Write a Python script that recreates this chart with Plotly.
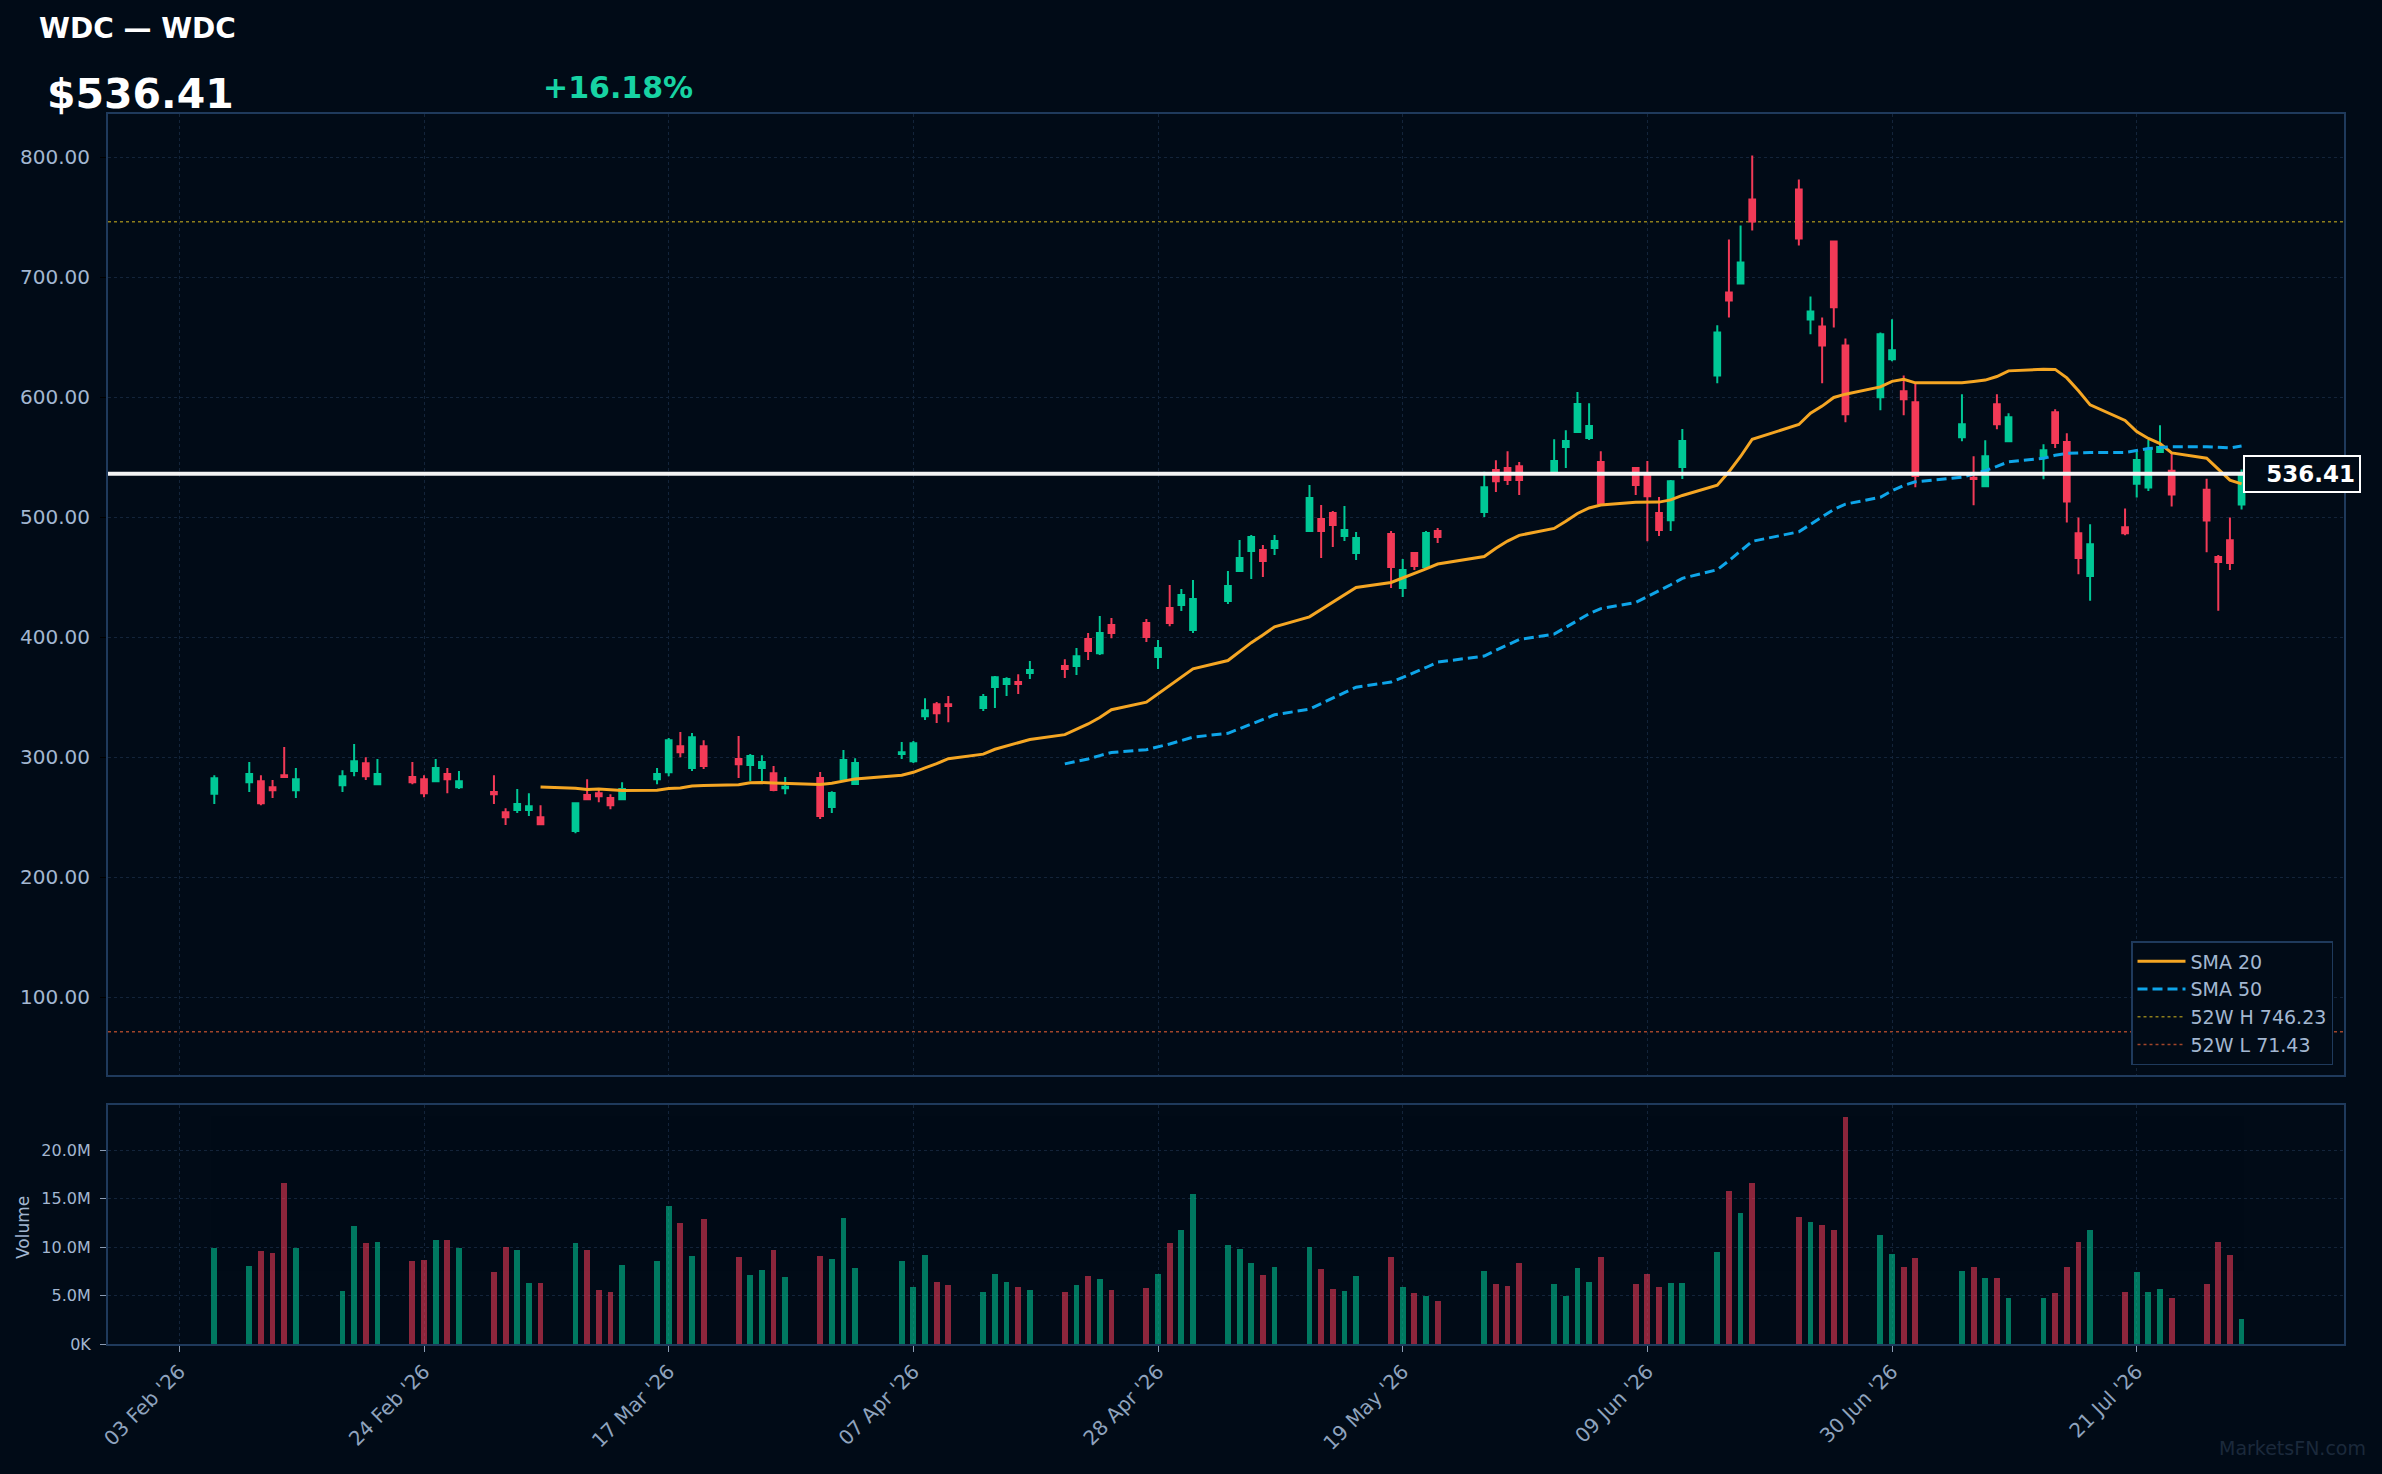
import plotly.graph_objects as go
import pandas as pd

# ---------------- data ----------------
dates = [
    "2026-02-06", "2026-02-09", "2026-02-10", "2026-02-11", "2026-02-12", "2026-02-13",
    "2026-02-17", "2026-02-18", "2026-02-19", "2026-02-20",
    "2026-02-23", "2026-02-24", "2026-02-25", "2026-02-26", "2026-02-27",
    "2026-03-02", "2026-03-03", "2026-03-04", "2026-03-05", "2026-03-06",
    "2026-03-09", "2026-03-10", "2026-03-11", "2026-03-12", "2026-03-13",
    "2026-03-16", "2026-03-17", "2026-03-18", "2026-03-19", "2026-03-20",
    "2026-03-23", "2026-03-24", "2026-03-25", "2026-03-26", "2026-03-27",
    "2026-03-30", "2026-03-31", "2026-04-01", "2026-04-02",
    "2026-04-06", "2026-04-07", "2026-04-08", "2026-04-09", "2026-04-10",
    "2026-04-13", "2026-04-14", "2026-04-15", "2026-04-16", "2026-04-17",
    "2026-04-20", "2026-04-21", "2026-04-22", "2026-04-23", "2026-04-24",
    "2026-04-27", "2026-04-28", "2026-04-29", "2026-04-30", "2026-05-01",
    "2026-05-04", "2026-05-05", "2026-05-06", "2026-05-07", "2026-05-08",
    "2026-05-11", "2026-05-12", "2026-05-13", "2026-05-14", "2026-05-15",
    "2026-05-18", "2026-05-19", "2026-05-20", "2026-05-21", "2026-05-22",
    "2026-05-26", "2026-05-27", "2026-05-28", "2026-05-29",
    "2026-06-01", "2026-06-02", "2026-06-03", "2026-06-04", "2026-06-05",
    "2026-06-08", "2026-06-09", "2026-06-10", "2026-06-11", "2026-06-12",
    "2026-06-15", "2026-06-16", "2026-06-17", "2026-06-18",
    "2026-06-22", "2026-06-23", "2026-06-24", "2026-06-25", "2026-06-26",
    "2026-06-29", "2026-06-30", "2026-07-01", "2026-07-02",
    "2026-07-06", "2026-07-07", "2026-07-08", "2026-07-09", "2026-07-10",
    "2026-07-13", "2026-07-14", "2026-07-15", "2026-07-16", "2026-07-17",
    "2026-07-20", "2026-07-21", "2026-07-22", "2026-07-23", "2026-07-24",
    "2026-07-27", "2026-07-28", "2026-07-29", "2026-07-30",
]

opens = [
    269.7, 279.4, 280.2, 275.2, 285.2, 272.7,
    276.9, 288.6, 295.2, 277.7,
    283.6, 281.9, 280.2, 286.1, 275.2,
    271.1, 254.4, 256.1, 256.1, 250.2,
    238.6, 268.6, 270.2, 266.1, 265.2,
    281.9, 287.7, 309.4, 291.1, 309.4,
    298.6, 293.6, 291.1, 286.9, 274.4,
    282.8, 258.6, 281.9, 277.8,
    302.8, 296.9, 334.4, 344.4, 344.4,
    341.1, 358.6, 361.1, 362.8, 370.3,
    376.1, 376.1, 398.6, 386.9, 410.3,
    411.9, 383.6, 424.4, 426.9, 406.1,
    430.3, 455.3, 471.9, 472.8, 474.4,
    488.6, 498.6, 503.6, 484.4, 470.3,
    486.1, 441.1, 470.3, 458.6, 488.6,
    504.4, 539.4, 541.1, 542.7,
    537.0, 558.6, 571.1, 566.1, 546.1,
    541.1, 536.1, 503.6, 497.7, 541.9,
    618.3, 687.4, 694.9, 764.9,
    773.2, 664.9, 659.1, 729.9, 643.3,
    600.0, 631.7, 605.0, 595.9,
    566.7, 533.0, 525.9, 594.2, 563.4,
    550.9, 587.6, 562.8, 486.7, 451.2,
    491.7, 528.1, 524.8, 554.5, 538.8,
    523.1, 466.9, 481.0, 510.7,
]

highs = [
    285.2, 296.1, 285.2, 281.1, 308.6, 291.1,
    289.4, 311.1, 300.2, 298.6,
    296.1, 285.2, 298.6, 291.1, 288.6,
    285.2, 257.7, 273.6, 270.2, 260.2,
    262.7, 281.9, 273.6, 269.4, 279.4,
    291.1, 316.1, 321.1, 320.3, 314.4,
    317.8, 302.8, 301.9, 292.8, 283.6,
    287.8, 271.9, 306.1, 299.4,
    312.8, 313.6, 349.4, 346.1, 351.1,
    352.8, 367.8, 366.9, 369.4, 380.3,
    381.9, 391.1, 403.6, 417.8, 416.1,
    415.3, 397.8, 443.6, 440.3, 447.8,
    455.3, 481.1, 485.3, 476.9, 485.3,
    526.9, 510.3, 505.3, 509.4, 487.8,
    488.6, 465.3, 471.1, 488.6, 491.1,
    538.0, 547.7, 555.2, 546.1,
    565.2, 572.7, 604.4, 595.2, 555.2,
    541.9, 546.9, 516.9, 531.1, 573.6,
    660.0, 731.6, 743.2, 801.5,
    781.5, 684.1, 666.6, 730.7, 649.1,
    654.1, 665.0, 618.3, 611.7,
    602.5, 550.9, 564.2, 602.5, 586.7,
    560.9, 590.1, 570.2, 500.0, 494.2,
    507.4, 554.5, 564.4, 576.8, 553.7,
    532.2, 468.6, 500.0, 540.0,
]

lows = [
    261.1, 271.1, 260.2, 266.1, 283.0, 266.1,
    271.1, 284.4, 281.1, 277.7,
    277.7, 266.9, 279.4, 270.2, 273.6,
    261.1, 243.6, 253.6, 251.1, 243.6,
    236.9, 264.8, 262.7, 256.9, 264.4,
    277.7, 284.4, 300.2, 288.6, 290.3,
    282.8, 280.3, 280.3, 271.9, 269.4,
    248.6, 253.6, 281.1, 277.5,
    298.6, 295.3, 331.1, 328.6, 329.4,
    338.6, 341.1, 351.1, 352.8, 365.3,
    366.1, 368.6, 381.1, 385.3, 399.4,
    396.1, 373.6, 409.4, 421.9, 403.6,
    427.8, 454.4, 448.6, 450.3, 468.6,
    487.8, 466.1, 475.3, 480.3, 464.4,
    441.1, 433.6, 456.1, 457.8, 478.6,
    500.4, 521.1, 526.9, 518.6,
    536.0, 541.1, 571.0, 564.4, 510.0,
    518.6, 480.2, 484.4, 488.6, 531.9,
    611.7, 666.6, 694.1, 739.0,
    726.6, 652.5, 611.7, 658.3, 579.2,
    589.2, 630.0, 585.0, 525.1,
    563.4, 510.1, 525.9, 573.4, 562.6,
    531.8, 557.8, 495.8, 452.7, 430.5,
    485.1, 516.5, 522.0, 553.7, 509.1,
    471.0, 422.3, 456.2, 506.6,
]

closes = [
    282.7, 286.1, 261.9, 272.7, 283.6, 281.9,
    284.4, 296.9, 284.4, 286.1,
    279.4, 270.2, 291.1, 281.9, 280.2,
    269.4, 250.2, 261.1, 259.4, 244.4,
    261.9, 265.2, 267.7, 260.2, 273.6,
    286.1, 314.4, 304.4, 316.9, 292.8,
    294.4, 301.1, 296.1, 272.8, 275.6,
    251.1, 270.3, 297.8, 295.3,
    304.4, 311.9, 339.4, 336.9, 342.8,
    350.3, 366.9, 365.3, 361.1, 372.8,
    373.6, 384.4, 388.6, 403.6, 403.6,
    400.3, 391.1, 411.9, 435.3, 431.9,
    442.8, 466.1, 483.6, 463.6, 480.3,
    516.1, 488.6, 493.6, 489.4, 482.8,
    458.6, 456.1, 459.4, 486.9, 483.6,
    525.2, 530.2, 531.1, 531.1,
    546.9, 563.6, 594.4, 576.1, 511.6,
    526.9, 517.7, 489.4, 530.2, 563.6,
    654.1, 680.8, 712.4, 746.5,
    732.4, 671.6, 643.3, 675.0, 585.9,
    652.5, 639.2, 598.4, 534.5,
    577.5, 532.0, 550.9, 577.5, 583.4,
    555.9, 562.0, 513.2, 466.1, 477.7,
    486.7, 547.9, 556.2, 558.6, 519.0,
    497.5, 462.8, 461.9, 536.41,
]

volumes_m = [
    9.9, 8.05, 9.6, 9.4, 16.65, 9.9,
    5.5, 12.15, 10.4, 10.5,
    8.57, 8.67, 10.8, 10.8, 9.9,
    7.44, 10.0, 9.69, 6.31, 6.31,
    10.4, 9.69, 5.6, 5.39, 8.16,
    8.57, 14.3, 12.46, 9.08, 12.87,
    8.98, 7.13, 7.65, 9.69, 6.93,
    9.08, 8.77, 12.97, 7.85,
    8.57, 5.9, 9.18, 6.42, 6.11,
    5.39, 7.24, 6.42, 5.9, 5.6,
    5.39, 6.11, 7.03, 6.72, 5.6,
    5.8, 7.24, 10.4, 11.74, 15.53,
    10.2, 9.8, 8.36, 7.13, 7.95,
    10.0, 7.75, 5.7, 5.5, 7.03,
    8.98, 5.9, 5.29, 4.98, 4.47,
    7.54, 6.21, 6.0, 8.36,
    6.21, 4.98, 7.85, 6.42, 8.98,
    6.21, 7.24, 5.9, 6.31, 6.31,
    9.49, 15.84, 13.58, 16.65,
    13.17, 12.66, 12.25, 11.74, 23.41,
    11.23, 9.28, 7.95, 8.87,
    7.54, 7.95, 6.83, 6.83, 4.78,
    4.78, 5.29, 7.95, 10.51, 11.74,
    5.39, 7.44, 5.39, 5.7, 4.78,
    6.21, 10.51, 9.18, 2.63,
]

ticker = "WDC"
last_price = 536.41
change_text = "+16.18%"
high_52w = 746.23
low_52w = 71.43

x_tick_dates = ["2026-02-03", "2026-02-24", "2026-03-17", "2026-04-07", "2026-04-28",
                "2026-05-19", "2026-06-09", "2026-06-30", "2026-07-21"]
x_tick_text = ["03 Feb '26", "24 Feb '26", "17 Mar '26", "07 Apr '26", "28 Apr '26",
               "19 May '26", "09 Jun '26", "30 Jun '26", "21 Jul '26"]
price_ticks = [100, 200, 300, 400, 500, 600, 700, 800]
vol_ticks = [0, 5e6, 10e6, 15e6, 20e6]
vol_tick_text = ["0K", "5.0M", "10.0M", "15.0M", "20.0M"]

# ---------------- styling ----------------
BG = "#010b17"
GRID = "#13243a"
BORDER = "#1f3a5c"
TXT = "#a3b7d1"
UP = "#00c896"
DOWN = "#f23a57"

df = pd.DataFrame({"date": pd.to_datetime(dates), "open": opens, "high": highs,
                   "low": lows, "close": closes, "volume": [v * 1e6 for v in volumes_m]})
df["sma20"] = df["close"].rolling(20).mean()
df["sma50"] = df["close"].rolling(50).mean()
vol_colors = [UP if c >= o else DOWN for o, c in zip(df["open"], df["close"])]

fig = go.Figure()

fig.add_trace(go.Candlestick(
    x=df["date"], open=df["open"], high=df["high"], low=df["low"], close=df["close"],
    increasing=dict(line=dict(color=UP, width=2), fillcolor=UP),
    decreasing=dict(line=dict(color=DOWN, width=2), fillcolor=DOWN),
    showlegend=False, xaxis="x", yaxis="y", name=ticker,
))
fig.add_trace(go.Scatter(x=df["date"], y=df["sma20"], mode="lines", name="SMA 20",
                         line=dict(color="#f5a623", width=3), xaxis="x", yaxis="y"))
fig.add_trace(go.Scatter(x=df["date"], y=df["sma50"], mode="lines", name="SMA 50",
                         line=dict(color="#0ea5e9", width=3, dash="10px,5px"), xaxis="x", yaxis="y"))
fig.add_trace(go.Scatter(x=[None], y=[None], mode="lines", name=f"52W H {high_52w:.2f}",
                         line=dict(color="rgba(190,165,30,0.75)", width=1.5, dash="dot"),
                         xaxis="x", yaxis="y"))
fig.add_trace(go.Scatter(x=[None], y=[None], mode="lines", name=f"52W L {low_52w:.2f}",
                         line=dict(color="rgba(215,90,50,0.75)", width=1.5, dash="dot"),
                         xaxis="x", yaxis="y"))

fig.add_trace(go.Bar(x=df["date"], y=df["volume"], marker=dict(color=vol_colors, line=dict(width=0)),
                     opacity=0.58, width=86400000 * 0.5, showlegend=False,
                     xaxis="x2", yaxis="y2", name="Volume"))

x_range = ["2026-01-27 21:00", "2026-08-07 19:00"]
W, H = 2382, 1474
ML, MR, MT, MB = 108, 38, 114, 130
PW, PH = W - ML - MR, H - MT - MB


def px(xp):
    return (xp - ML) / PW


def py(yp):
    return (H - MB - yp) / PH


axis_common = dict(showline=True, linecolor=BORDER, linewidth=2, mirror=True,
                   showgrid=True, gridcolor=GRID, griddash="dot", gridwidth=1, zeroline=False)

fig.update_layout(
    width=W, height=H,
    paper_bgcolor=BG, plot_bgcolor=BG,
    font=dict(family="DejaVu Sans", color=TXT, size=18),
    margin=dict(l=ML, r=MR, t=MT, b=MB),
    bargap=0,
    xaxis=dict(**axis_common, type="date", range=x_range, domain=[0, 1], anchor="y",
               tickvals=x_tick_dates, ticktext=x_tick_text, showticklabels=False,
               rangeslider=dict(visible=False), ticks=""),
    yaxis=dict(**axis_common, domain=[py(1075), 1], range=[35.4, 836.1],
               tickvals=price_ticks, tickformat=".2f", ticks="outside", ticklen=6,
               tickcolor="#000000", ticklabelstandoff=6, tickfont=dict(size=20, color=TXT)),
    xaxis2=dict(**axis_common, type="date", range=x_range, domain=[0, 1], anchor="y2",
                matches="x", tickvals=x_tick_dates, ticktext=x_tick_text, tickangle=-45,
                ticks="outside", ticklen=6, tickcolor="#8a9bb3",
                tickfont=dict(size=20, color="#8fa3be")),
    yaxis2=dict(**axis_common, domain=[0, py(1104.7)], range=[0, 24.67e6],
                tickvals=vol_ticks, ticktext=vol_tick_text, ticks="outside", ticklen=6,
                tickcolor="#8a9bb3", ticklabelstandoff=6, tickfont=dict(size=16, color=TXT)),
    legend=dict(x=px(2333), y=py(1065), xanchor="right", yanchor="bottom",
                bgcolor=BG, bordercolor=BORDER, borderwidth=1.5, itemwidth=48,
                font=dict(size=19, color=TXT), tracegroupgap=0),
    showlegend=True,
)

# horizontal reference lines
fig.add_shape(type="line", xref="paper", yref="y", x0=0, x1=1, y0=high_52w, y1=high_52w,
              line=dict(color="rgba(190,165,30,0.75)", width=1.5, dash="dot"), layer="below")
fig.add_shape(type="line", xref="paper", yref="y", x0=0, x1=1, y0=low_52w, y1=low_52w,
              line=dict(color="rgba(215,90,50,0.75)", width=1.5, dash="dot"), layer="below")
fig.add_shape(type="line", xref="paper", yref="y", x0=0, x1=1, y0=last_price, y1=last_price,
              line=dict(color="#f4f4f4", width=4), layer="above")

# last price label
fig.add_annotation(xref="paper", yref="y", x=px(2361), y=last_price, xanchor="right", yanchor="middle",
                   text=f"<b>{last_price:.2f}</b>", showarrow=False, align="right",
                   font=dict(size=23, color="#ffffff"), bgcolor=BG, bordercolor="#ffffff",
                   borderwidth=2, borderpad=4, width=106, height=26)

# header texts
fig.add_annotation(xref="paper", yref="paper", x=px(37), y=py(28), xanchor="left", yanchor="middle",
                   text=f"<b>{ticker} — {ticker}</b>", showarrow=False,
                   font=dict(size=28, color="#ffffff"))
fig.add_annotation(xref="paper", yref="paper", x=px(45), y=py(94), xanchor="left", yanchor="middle",
                   text=f"<b>${last_price:.2f}</b>", showarrow=False,
                   font=dict(size=41, color="#ffffff"))
fig.add_annotation(xref="paper", yref="paper", x=px(541), y=py(88), xanchor="left", yanchor="middle",
                   text=f"<b>{change_text}</b>", showarrow=False,
                   font=dict(size=30, color="#17d3a3"))

# volume axis title
fig.add_annotation(xref="paper", yref="paper", x=px(23), y=py(1228), xanchor="center", yanchor="middle",
                   text="Volume", textangle=-90, showarrow=False, font=dict(size=17, color=TXT))

# watermark
fig.add_annotation(xref="paper", yref="paper", x=px(2368), y=py(1448), xanchor="right", yanchor="middle",
                   text="MarketsFN.com", showarrow=False, font=dict(size=19, color="#1b293b"))

fig.write_html("out.html")
